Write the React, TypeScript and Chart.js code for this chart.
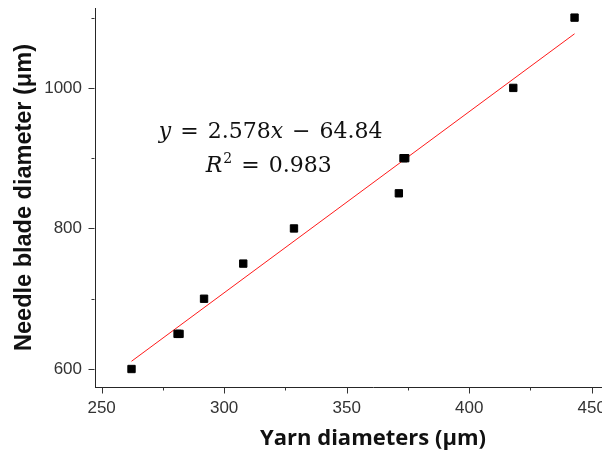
import React, { useEffect, useRef } from "react";
import { Chart, registerables } from "chart.js";

Chart.register(...registerables);

// ---- data ----
const yarnDiameters = [262.2, 281.0, 281.8, 291.8, 307.8, 328.5, 371.3, 373.2, 373.9, 418.0, 443.0];
const bladeDiameters = [600, 650, 650, 700, 750, 800, 850, 900, 900, 1000, 1100];
const fitX = [262.2, 443.0];
const fitY = [611, 1077];
const xMajorTicks = [250, 300, 350, 400, 450];
const xMinorTicks = [275, 325, 375, 425];
const yMajorTicks = [600, 800, 1000];
const yMinorTicks = [700, 900, 1100];
const xTitle = "Yarn diameters (μm)";
const yTitle = "Needle blade diameter (μm)";
const eqLine1 = [
  { t: "y", it: true }, { gap: true }, { t: "=" }, { gap: true }, { t: "2.578" }, { t: "x", it: true },
  { gap: true }, { t: "−" }, { gap: true }, { t: "64.84" },
];
const eqLine2 = [
  { t: "R", it: true }, { t: "2", sup: true }, { gap: true }, { t: "=" }, { gap: true }, { t: "0.983" },
];
// annotation anchor in data coordinates
const eqAnchor = { x: 319, y1: 929, y2: 880 };

const AXIS_COLOR = "#262626";
const TICK_COLOR = "#333333";

const tickPlugin = {
  id: "customTicks",
  afterDraw(chart: any) {
    const ctx = chart.ctx;
    const xs = chart.scales.x;
    const ys = chart.scales.y;
    const area = chart.chartArea;
    ctx.save();
    ctx.strokeStyle = TICK_COLOR;
    ctx.lineWidth = 1;
    ctx.beginPath();
    const bottom = Math.round(area.bottom) + 0.5;
    const left = Math.round(area.left) - 0.5;
    xMajorTicks.forEach((v) => {
      const px = Math.round(xs.getPixelForValue(v)) + 0.5;
      ctx.moveTo(px, bottom);
      ctx.lineTo(px, bottom + 6);
    });
    xMinorTicks.forEach((v) => {
      const px = Math.round(xs.getPixelForValue(v)) + 0.5;
      ctx.moveTo(px, bottom);
      ctx.lineTo(px, bottom + 3);
    });
    yMajorTicks.forEach((v) => {
      const py = Math.round(ys.getPixelForValue(v)) + 0.5;
      ctx.moveTo(left, py);
      ctx.lineTo(left - 6, py);
    });
    yMinorTicks.forEach((v) => {
      const py = Math.round(ys.getPixelForValue(v)) + 0.5;
      ctx.moveTo(left, py);
      ctx.lineTo(left - 3, py);
    });
    ctx.stroke();
    ctx.restore();
  },
};

function drawEqLine(ctx: any, tokens: any[], cx: number, baseline: number) {
  const size = 22;
  const normal = `${size}px "DejaVu Serif"`;
  const italic = `italic ${size}px "DejaVu Serif"`;
  const sup = `14px "DejaVu Serif"`;
  const gap = 9;
  const widths = tokens.map((tk) => {
    if (tk.gap) return gap;
    ctx.font = tk.sup ? sup : tk.it ? italic : normal;
    return ctx.measureText(tk.t).width + (tk.sup ? 1 : 0);
  });
  const total = widths.reduce((a, b) => a + b, 0);
  let x = cx - total / 2;
  tokens.forEach((tk, i) => {
    if (!tk.gap) {
      ctx.font = tk.sup ? sup : tk.it ? italic : normal;
      ctx.fillText(tk.t, x + (tk.sup ? 1 : 0), tk.sup ? baseline - 9 : baseline);
    }
    x += widths[i];
  });
}

const equationPlugin = {
  id: "equation",
  afterDatasetsDraw(chart: any) {
    const ctx = chart.ctx;
    const xs = chart.scales.x;
    const ys = chart.scales.y;
    ctx.save();
    ctx.fillStyle = "#111111";
    ctx.textAlign = "left";
    ctx.textBaseline = "alphabetic";
    const cx = xs.getPixelForValue(eqAnchor.x);
    drawEqLine(ctx, eqLine1, cx, ys.getPixelForValue(eqAnchor.y1));
    drawEqLine(ctx, eqLine2, cx - 2, ys.getPixelForValue(eqAnchor.y2));
    ctx.restore();
  },
};

export default function App() {
  const canvasRef = useRef<HTMLCanvasElement | null>(null);

  useEffect(() => {
    const canvas = canvasRef.current;
    if (!canvas) return;
    const scatterData = yarnDiameters.map((x, i) => ({ x, y: bladeDiameters[i] }));
    const fitData = fitX.map((x, i) => ({ x, y: fitY[i] }));
    const chart = new Chart(canvas, {
      type: "scatter",
      data: {
        datasets: [
          {
            label: "Measured",
            data: scatterData,
            pointStyle: "rect",
            pointRadius: 5.2,
            pointBackgroundColor: "#000000",
            pointBorderColor: "#000000",
            pointBorderWidth: 1,
            showLine: false,
          },
          {
            label: "Fit",
            data: fitData,
            showLine: true,
            borderColor: "rgba(255,0,0,0.9)",
            borderWidth: 1,
            pointRadius: 0,
            fill: false,
          } as any,
        ],
      },
      options: {
        responsive: false,
        animation: false,
        devicePixelRatio: 1,
        layout: { padding: { top: 8, right: 9, bottom: 0, left: 0 } },
        plugins: { legend: { display: false }, tooltip: { enabled: false } },
        scales: {
          x: {
            type: "linear",
            min: 247.3,
            max: 474.2,
            afterBuildTicks: (scale: any) => {
              scale.ticks = xMajorTicks.map((v) => ({ value: v }));
            },
            afterFit: (scale: any) => {
              scale.height = 67;
              scale.paddingLeft = 0;
              scale.paddingRight = 0;
            },
            grid: { display: false, drawTicks: false },
            border: { display: true, color: AXIS_COLOR, width: 1 },
            ticks: {
              color: TICK_COLOR,
              font: { family: "Liberation Sans", size: 17 },
              padding: 11,
              maxRotation: 0,
              autoSkip: false,
              callback: (v: any) => String(v),
            },
            title: {
              display: true,
              text: xTitle,
              color: "#111111",
              font: { family: "Open Sans", size: 22, weight: "bold" },
              padding: { top: 0, bottom: 2 },
            },
          },
          y: {
            type: "linear",
            min: 574.4,
            max: 1113.7,
            afterBuildTicks: (scale: any) => {
              scale.ticks = yMajorTicks.map((v) => ({ value: v }));
            },
            afterFit: (scale: any) => {
              scale.width = 95;
              scale.paddingTop = 0;
              scale.paddingBottom = 0;
            },
            grid: { display: false, drawTicks: false },
            border: { display: true, color: AXIS_COLOR, width: 1 },
            ticks: {
              color: TICK_COLOR,
              font: { family: "Liberation Sans", size: 17 },
              padding: 13,
              autoSkip: false,
              callback: (v: any) => String(v),
            },
            title: {
              display: true,
              text: yTitle,
              color: "#111111",
              font: { family: "Liberation Sans", size: 23.5, weight: "bold" },
              padding: { top: 10, bottom: 0 },
            },
          },
        },
      } as any,
      plugins: [tickPlugin, equationPlugin],
    });
    return () => chart.destroy();
  }, []);

  return (
    <div
      style={{
        position: "fixed",
        left: 0,
        top: 0,
        width: 602,
        height: 454,
        overflow: "hidden",
        background: "#ffffff",
      }}
    >
      <canvas ref={canvasRef} width={660} height={454} style={{ width: 660, height: 454, display: "block" }} />
    </div>
  );
}
